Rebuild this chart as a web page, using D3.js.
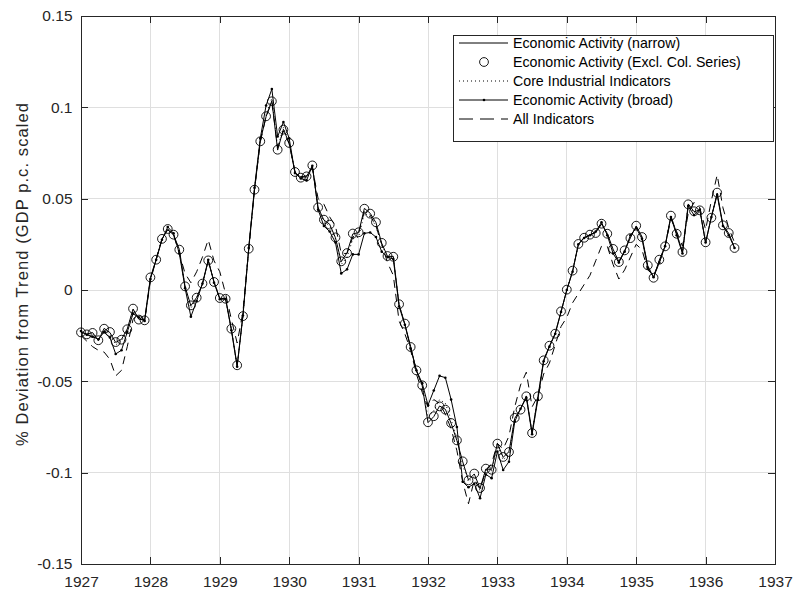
<!DOCTYPE html>
<html>
<head>
<meta charset="utf-8">
<script src="https://cdn.jsdelivr.net/npm/d3@7"></script>
<style>
  body { margin: 0; background: #fff; }
  svg { font-family: "Liberation Sans", Arial, sans-serif; }
</style>
</head>
<body>
<svg id="chart"></svg>
<script>
// monthly observations, Jan 1927 .. Jun 1936
const startYear = 1927;

const narrow = [
  -0.0232, -0.0241, -0.0233, -0.0277, -0.0210, -0.0233, -0.0287, -0.0270, -0.0213, -0.0104, -0.0160, -0.0164,
   0.0067,  0.0168,  0.0278,  0.0332,  0.0301,  0.0223,  0.0018, -0.0086, -0.0040,  0.0033,  0.0160,  0.0046,
  -0.0046, -0.0046, -0.0214, -0.0414, -0.0141,  0.0224,  0.0547,  0.0816,  0.0949,  0.1035,  0.0766,  0.0880,
   0.0803,  0.0644,  0.0617,  0.0620,  0.0680,  0.0450,  0.0383,  0.0360,  0.0286,  0.0155,  0.0204,  0.0307,
   0.0314,  0.0447,  0.0420,  0.0369,  0.0256,  0.0184,  0.0184, -0.0080, -0.0186, -0.0310, -0.0442, -0.0524,
  -0.0726, -0.0693, -0.0635, -0.0653, -0.0730, -0.0825, -0.0940, -0.1040, -0.1007, -0.1086, -0.0980, -0.0982,
  -0.0839, -0.0916, -0.0885, -0.0702, -0.0653, -0.0580, -0.0781, -0.0584, -0.0383, -0.0307, -0.0237, -0.0119,
   0.0000,  0.0104,  0.0250,  0.0288,  0.0301,  0.0314,  0.0361,  0.0310,  0.0223,  0.0155,  0.0215,  0.0286,
   0.0350,  0.0292,  0.0133,  0.0069,  0.0164,  0.0241,  0.0405,  0.0310,  0.0206,  0.0471,  0.0429,  0.0438,
   0.0259,  0.0398,  0.0531,  0.0356,  0.0310,  0.0232
];

const exclCol = [
  -0.0232, -0.0243, -0.0235, -0.0275, -0.0212, -0.0230, -0.0285, -0.0272, -0.0215, -0.0102, -0.0162, -0.0166,
   0.0069,  0.0166,  0.0280,  0.0334,  0.0303,  0.0221,  0.0020, -0.0084, -0.0042,  0.0035,  0.0162,  0.0044,
  -0.0044, -0.0048, -0.0212, -0.0412, -0.0143,  0.0226,  0.0549,  0.0814,  0.0951,  0.1033,  0.0768,  0.0878,
   0.0805,  0.0646,  0.0615,  0.0622,  0.0682,  0.0452,  0.0385,  0.0358,  0.0288,  0.0157,  0.0202,  0.0309,
   0.0316,  0.0445,  0.0418,  0.0371,  0.0258,  0.0186,  0.0182, -0.0078, -0.0184, -0.0312, -0.0440, -0.0522,
  -0.0724, -0.0691, -0.0637, -0.0655, -0.0728, -0.0823, -0.0938, -0.1042, -0.1005, -0.1084, -0.0978, -0.0984,
  -0.0841, -0.0914, -0.0887, -0.0700, -0.0655, -0.0582, -0.0783, -0.0582, -0.0385, -0.0305, -0.0239, -0.0117,
   0.0002,  0.0106,  0.0252,  0.0286,  0.0303,  0.0312,  0.0363,  0.0308,  0.0225,  0.0153,  0.0217,  0.0284,
   0.0352,  0.0290,  0.0135,  0.0067,  0.0166,  0.0239,  0.0407,  0.0308,  0.0208,  0.0469,  0.0431,  0.0436,
   0.0261,  0.0396,  0.0533,  0.0354,  0.0312,  0.0230
];

const coreIndustrial = [
  -0.0230, -0.0240, -0.0240, -0.0275, -0.0220, -0.0240, -0.0300, -0.0280, -0.0220, -0.0110, -0.0158, -0.0166,
   0.0065,  0.0167,  0.0277,  0.0335,  0.0303,  0.0215,  0.0015, -0.0100, -0.0045,  0.0034,  0.0161,  0.0045,
  -0.0047, -0.0047, -0.0215, -0.0415, -0.0141,  0.0226,  0.0550,  0.0820,  0.0960,  0.1050,  0.0780,  0.0890,
   0.0810,  0.0643,  0.0615,  0.0615,  0.0680,  0.0448,  0.0375,  0.0350,  0.0280,  0.0140,  0.0180,  0.0280,
   0.0290,  0.0420,  0.0400,  0.0350,  0.0245,  0.0183,  0.0180, -0.0082, -0.0187, -0.0312, -0.0441, -0.0520,
  -0.0700, -0.0660, -0.0600, -0.0620, -0.0710, -0.0810, -0.0960, -0.1050, -0.1020, -0.1100, -0.0990, -0.0990,
  -0.0850, -0.0930, -0.0900, -0.0708, -0.0652, -0.0582, -0.0783, -0.0588, -0.0385, -0.0308, -0.0238, -0.0119,
   0.0000,  0.0103,  0.0250,  0.0287,  0.0301,  0.0316,  0.0363,  0.0307,  0.0217,  0.0154,  0.0214,  0.0290,
   0.0347,  0.0288,  0.0130,  0.0069,  0.0160,  0.0241,  0.0403,  0.0307,  0.0204,  0.0467,  0.0423,  0.0439,
   0.0259,  0.0399,  0.0528,  0.0354,  0.0307,  0.0231
];

const broad = [
  -0.0225, -0.0245, -0.0255, -0.0270, -0.0230, -0.0260, -0.0350, -0.0330, -0.0230, -0.0130, -0.0150, -0.0170,
   0.0060,  0.0165,  0.0275,  0.0345,  0.0310,  0.0200,  0.0010, -0.0146, -0.0060,  0.0035,  0.0165,  0.0040,
  -0.0050, -0.0050, -0.0220, -0.0420, -0.0140,  0.0230,  0.0560,  0.0830,  0.1010,  0.1100,  0.0840,  0.0920,
   0.0830,  0.0640,  0.0610,  0.0600,  0.0680,  0.0440,  0.0350,  0.0320,  0.0260,  0.0091,  0.0113,  0.0195,
   0.0195,  0.0310,  0.0315,  0.0290,  0.0210,  0.0180,  0.0170, -0.0090, -0.0190, -0.0320, -0.0440, -0.0510,
  -0.0630, -0.0550, -0.0470, -0.0480, -0.0600, -0.0750, -0.1050, -0.1080, -0.1060, -0.1140, -0.1010, -0.1030,
  -0.0885, -0.0985, -0.0940, -0.0720, -0.0650, -0.0590, -0.0790, -0.0600, -0.0390, -0.0310, -0.0240, -0.0120,
   0.0000,  0.0100,  0.0250,  0.0285,  0.0300,  0.0320,  0.0370,  0.0300,  0.0200,  0.0150,  0.0210,  0.0300,
   0.0340,  0.0280,  0.0120,  0.0070,  0.0150,  0.0240,  0.0400,  0.0300,  0.0200,  0.0460,  0.0410,  0.0440,
   0.0260,  0.0400,  0.0520,  0.0350,  0.0300,  0.0230
];

const allIndicators = [
  -0.0250, -0.0280, -0.0310, -0.0330, -0.0340, -0.0380, -0.0470, -0.0440, -0.0310, -0.0160, -0.0130, -0.0170,
   0.0050,  0.0170,  0.0280,  0.0330,  0.0300,  0.0200,  0.0090,  0.0040,  0.0100,  0.0180,  0.0275,  0.0160,
   0.0100, -0.0020, -0.0160, -0.0290, -0.0120,  0.0220,  0.0550,  0.0810,  0.0950,  0.1030,  0.0780,  0.0870,
   0.0800,  0.0650,  0.0620,  0.0625,  0.0670,  0.0500,  0.0470,  0.0400,  0.0350,  0.0200,  0.0200,  0.0290,
   0.0310,  0.0430,  0.0410,  0.0350,  0.0250,  0.0150,  0.0080, -0.0170, -0.0240, -0.0330, -0.0460, -0.0560,
  -0.0640, -0.0600, -0.0620, -0.0680, -0.0760, -0.0880, -0.1050, -0.1170, -0.1040, -0.1090, -0.0990, -0.0950,
  -0.0840, -0.0870, -0.0800, -0.0640, -0.0520, -0.0450, -0.0640, -0.0580, -0.0460, -0.0400, -0.0300, -0.0200,
  -0.0150, -0.0070, -0.0020,  0.0030,  0.0080,  0.0160,  0.0240,  0.0240,  0.0140,  0.0060,  0.0110,  0.0180,
   0.0250,  0.0220,  0.0110,  0.0080,  0.0150,  0.0240,  0.0390,  0.0320,  0.0240,  0.0420,  0.0480,  0.0450,
   0.0330,  0.0490,  0.0630,  0.0450,  0.0340,  0.0260
];

const xTicks = [1927, 1928, 1929, 1930, 1931, 1932, 1933, 1934, 1935, 1936, 1937];
const yTicks = [-0.15, -0.1, -0.05, 0, 0.05, 0.1, 0.15];
const yTickLabels = ["-0.15", "-0.1", "-0.05", "0", "0.05", "0.1", "0.15"];

const legendLabels = [
  "Economic Activity (narrow)",
  "Economic Activity (Excl. Col. Series)",
  "Core Industrial Indicators",
  "Economic Activity (broad)",
  "All Indicators"
];

function draw() {
  const width = 794;
  const height = 594;
  const left = 81, right = 775, top = 16, bottom = 564;
  const axisColor = "#262626";
  const tickLen = 7;

  const svg = d3.select("#chart")
    .attr("width", width)
    .attr("height", height);

  const x = d3.scaleLinear().domain([1927, 1937]).range([left, right]);
  const y = d3.scaleLinear().domain([-0.15, 0.15]).range([bottom, top]);

  const date = (i) => startYear + i / 12;

  // grid
  const grid = svg.append("g").attr("stroke", "#dfdfdf").attr("stroke-width", 1)
    .attr("shape-rendering", "crispEdges");
  grid.selectAll("line.v").data(xTicks.slice(1, -1)).join("line")
    .attr("x1", d => x(d)).attr("x2", d => x(d))
    .attr("y1", top).attr("y2", bottom);
  grid.selectAll("line.h").data(yTicks.slice(1, -1)).join("line")
    .attr("x1", left).attr("x2", right)
    .attr("y1", d => y(d)).attr("y2", d => y(d));

  // axes with inward ticks on all sides
  const fmtY = (d) => yTickLabels[yTicks.indexOf(d)];
  const axes = [
    { ax: d3.axisBottom(x).tickValues(xTicks).tickFormat(d3.format("d")).tickPadding(12), t: `translate(0,${bottom})` },
    { ax: d3.axisTop(x).tickValues(xTicks).tickFormat(""), t: `translate(0,${top})` },
    { ax: d3.axisLeft(y).tickValues(yTicks).tickFormat(fmtY).tickPadding(8.5), t: `translate(${left},0)` },
    { ax: d3.axisRight(y).tickValues(yTicks).tickFormat(""), t: `translate(${right},0)` }
  ];
  axes.forEach(a => {
    const g = svg.append("g")
      .attr("transform", a.t)
      .call(a.ax.tickSizeInner(-tickLen).tickSizeOuter(0));
    g.select(".domain").remove();
    g.selectAll("line").attr("stroke", axisColor).attr("shape-rendering", "crispEdges");
    g.selectAll("text")
      .attr("fill", axisColor)
      .style("font-family", "'Liberation Sans', Arial, sans-serif")
      .style("font-size", "15.5px");
  });

  svg.append("rect")
    .attr("x", left).attr("y", top)
    .attr("width", right - left).attr("height", bottom - top)
    .attr("fill", "none").attr("stroke", axisColor).attr("stroke-width", 1)
    .attr("shape-rendering", "crispEdges");

  // y label
  svg.append("text")
    .attr("transform", `translate(28,446) rotate(-90)`)
    .attr("text-anchor", "start")
    .attr("fill", axisColor)
    .attr("textLength", 343)
    .attr("lengthAdjust", "spacing")
    .style("font-size", "16.5px")
    .text("% Deviation from Trend (GDP p.c. scaled");

  const line = d3.line().x((d, i) => x(date(i))).y(d => y(d));
  const plot = svg.append("g");

  plot.append("path").attr("d", line(narrow))
    .attr("fill", "none").attr("stroke", "#000").attr("stroke-width", 1);

  plot.append("g").selectAll("circle").data(exclCol).join("circle")
    .attr("cx", (d, i) => x(date(i))).attr("cy", d => y(d)).attr("r", 4.4)
    .attr("fill", "none").attr("stroke", "#000").attr("stroke-width", 0.9);

  plot.append("path").attr("d", line(coreIndustrial))
    .attr("fill", "none").attr("stroke", "#000").attr("stroke-width", 1)
    .attr("stroke-dasharray", "1,3");

  plot.append("path").attr("d", line(broad))
    .attr("fill", "none").attr("stroke", "#000").attr("stroke-width", 1);
  plot.append("g").selectAll("circle").data(broad).join("circle")
    .attr("cx", (d, i) => x(date(i))).attr("cy", d => y(d)).attr("r", 1.3)
    .attr("fill", "#000");

  plot.append("path").attr("d", line(allIndicators))
    .attr("fill", "none").attr("stroke", "#000").attr("stroke-width", 1)
    .attr("stroke-dasharray", "8,6");

  // legend
  const lg = svg.append("g");
  lg.append("rect")
    .attr("x", 453).attr("y", 35).attr("width", 320).attr("height", 106)
    .attr("fill", "#fff").attr("stroke", axisColor).attr("stroke-width", 1)
    .attr("shape-rendering", "crispEdges");

  const rowY = (i) => 43 + i * 19;
  const x0 = 459, x1 = 508, xm = 484;
  const styles = ["solid", "circle", "dotted", "dot", "dashed"];
  styles.forEach((s, i) => {
    const yy = rowY(i);
    if (s !== "circle") {
      lg.append("line").attr("x1", x0).attr("x2", x1).attr("y1", yy).attr("y2", yy)
        .attr("stroke", "#000").attr("stroke-width", 1)
        .attr("stroke-dasharray", s === "dotted" ? "1,3" : s === "dashed" ? "14,7" : null);
    }
    if (s === "circle") {
      lg.append("circle").attr("cx", xm).attr("cy", yy).attr("r", 4.4)
        .attr("fill", "none").attr("stroke", "#000").attr("stroke-width", 0.9);
    }
    if (s === "dot") {
      lg.append("circle").attr("cx", xm).attr("cy", yy).attr("r", 1.3).attr("fill", "#000");
    }
    lg.append("text")
      .attr("x", 513).attr("y", yy).attr("dy", "0.35em")
      .attr("fill", "#000")
      .style("font-size", "14.2px")
      .text(legendLabels[i]);
  });
}

draw();
</script>
</body>
</html>
